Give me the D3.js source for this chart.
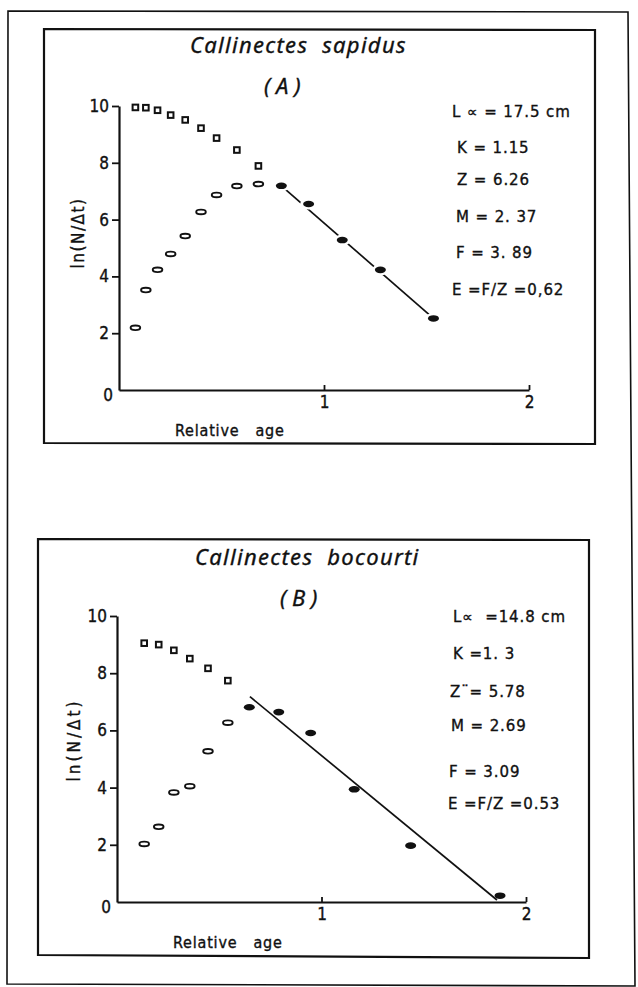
<!DOCTYPE html>
<html>
<head>
<meta charset="utf-8">
<script src="https://cdn.jsdelivr.net/npm/d3@7"></script>
<style>
  body { margin: 0; background: #fff; }
  text { fill: #111; stroke: #111; stroke-width: 0.35px; }
</style>
</head>
<body>
<svg id="chart" width="638" height="987"></svg>
<script>
// values
const yTicks = [2, 4, 6, 8, 10];
const xTicks = [1, 2];

// (A) Callinectes sapidus
const ageA = [0.08, 0.131, 0.188, 0.252, 0.323, 0.40, 0.476, 0.575, 0.68];
const lnUpperA = [9.95, 9.94, 9.85, 9.68, 9.51, 9.22, 8.87, 8.45, 7.89];
const lnLowerA = [2.19, 3.52, 4.23, 4.79, 5.42, 6.27, 6.87, 7.18, 7.25];
const ageFitA = [0.792, 0.925, 1.089, 1.275, 1.534];
const lnFitA = [7.19, 6.55, 5.28, 4.23, 2.52];
const lineA = [[0.792, 7.19], [1.534, 2.52]];
const paramsA = ['L \u221d = 17.5 cm', 'K = 1.15', 'Z = 6.26', 'M = 2. 37', 'F = 3. 89', 'E =F/Z =0,62'];

// (B) Callinectes bocourti
const ageB = [0.133, 0.204, 0.278, 0.356, 0.445, 0.542];
const lnUpperB = [9.05, 9.0, 8.80, 8.51, 8.17, 7.74];
const lnLowerB = [2.03, 2.63, 3.83, 4.05, 5.27, 6.27];
const ageFitB = [0.647, 0.791, 0.947, 1.160, 1.436, 1.873];
const lnFitB = [6.81, 6.64, 5.91, 3.94, 1.97, 0.22];
const lineB = [[0.650, 7.18], [1.858, 0.07]];
const paramsB = ['L\u221d  =14.8 cm', 'K =1. 3', 'Z\u00a8= 5.78', 'M = 2.69', 'F = 3.09', 'E =F/Z =0.53'];

const svg = d3.select('#chart');
const ink = '#111';
const font = '"DejaVu Sans Condensed", "DejaVu Sans", sans-serif';

// outer frame of the plate
svg.append('path')
  .attr('d', 'M8,11 L628,12 L635,986 L7,984 Z')
  .attr('fill', 'none')
  .attr('stroke', ink)
  .attr('stroke-width', 1.6);

function titleOf(species) {
  return `Callinectes  ${species}`;
}

const drawPanel = (p) => {
  const scaleX = d3.scaleLinear().domain([0, 2]).range(p.xRange);
  const scaleY = d3.scaleLinear().domain([0, 10]).range(p.yRange);

  const g = svg.append('g').attr('class', `panel-${p.name}`);

  g.append('path')
    .attr('d', d3.line()(p.box) + 'Z')
    .attr('fill', 'none')
    .attr('stroke', ink)
    .attr('stroke-width', 2.2);

  g.append('text')
    .attr('x', p.titleX).attr('y', p.titleY)
    .attr('font-family', '"Noto Sans", sans-serif')
    .attr('font-style', 'italic')
    .attr('font-size', 22)
    .attr('letter-spacing', 1.3)
    .attr('xml:space', 'preserve')
    .text(p.title);

  g.append('text')
    .attr('x', p.tagX).attr('y', p.titleY + 41)
    .attr('font-family', '"Noto Sans", sans-serif')
    .attr('font-style', 'italic')
    .attr('font-size', 22)
    .attr('xml:space', 'preserve')
    .text(p.tag);

  // axes
  const axisY = d3.axisLeft(scaleY)
    .tickValues(yTicks)
    .tickSize(7)
    .tickSizeOuter(0)
    .tickPadding(3)
    .tickFormat(d3.format('d'));

  const axisX = d3.axisBottom(scaleX)
    .tickValues(xTicks)
    .tickSize(-5)
    .tickSizeOuter(0)
    .tickPadding(6)
    .tickFormat(d3.format('d'));

  const groupAxisY = g.append('g')
    .attr('transform', `translate(${p.xRange[0]},0)`)
    .call(axisY);

  const groupAxisX = g.append('g')
    .attr('transform', `translate(0,${p.yRange[0]})`)
    .call(axisX);

  [groupAxisX, groupAxisY].forEach(ax => {
    ax.select('.domain').attr('stroke', ink).attr('stroke-width', 2.2);
    ax.selectAll('.tick line').attr('stroke', ink).attr('stroke-width', 1.8);
    ax.selectAll('.tick text')
      .attr('fill', ink)
      .attr('font-family', font)
      .attr('font-size', 17);
  });

  // origin label
  g.append('text')
    .attr('x', scaleX(0) - 6).attr('y', scaleY(0) + 11)
    .attr('text-anchor', 'end')
    .attr('font-family', font)
    .attr('font-size', 17)
    .text('0');

  g.append('text')
    .attr('transform', `translate(${p.yLabelX},${p.yLabelY}) rotate(-90)`)
    .attr('text-anchor', 'middle')
    .attr('font-family', font)
    .attr('font-size', 17)
    .attr('letter-spacing', p.yLabelSpacing)
    .text('ln(N/\u0394t)');

  g.append('text')
    .attr('x', p.xLabelX).attr('y', scaleY(0) + 46)
    .attr('font-family', font)
    .attr('font-size', 16)
    .attr('letter-spacing', 0.8)
    .attr('xml:space', 'preserve')
    .text('Relative   age');

  // fitted catch curve line, drawn under the points
  g.append('path')
    .attr('d', d3.line().x(d => scaleX(d[0])).y(d => scaleY(d[1]))(p.line))
    .attr('stroke', ink)
    .attr('stroke-width', 1.7)
    .attr('fill', 'none');

  g.selectAll('rect.upper')
    .data(p.age.map((a, i) => [a, p.upper[i]]))
    .enter()
    .append('rect')
    .attr('class', 'upper')
    .attr('x', d => scaleX(d[0]) - 2.8)
    .attr('y', d => scaleY(d[1]) - 2.8)
    .attr('width', 5.6)
    .attr('height', 5.6)
    .attr('fill', '#fff')
    .attr('stroke', ink)
    .attr('stroke-width', 2);

  g.selectAll('ellipse.lower')
    .data(p.age.map((a, i) => [a, p.lower[i]]))
    .enter()
    .append('ellipse')
    .attr('class', 'lower')
    .attr('cx', d => scaleX(d[0]))
    .attr('cy', d => scaleY(d[1]))
    .attr('rx', 4.8)
    .attr('ry', 2.3)
    .attr('fill', '#fff')
    .attr('stroke', ink)
    .attr('stroke-width', 1.9);

  const fitPoints = p.ageFit.map((a, i) => [a, p.lnFit[i]]);

  // white halo so the line breaks around each point, as on the plate
  g.selectAll('ellipse.halo')
    .data(p.gap ? fitPoints : [])
    .enter()
    .append('ellipse')
    .attr('class', 'halo')
    .attr('cx', d => scaleX(d[0]))
    .attr('cy', d => scaleY(d[1]))
    .attr('rx', 8.5)
    .attr('ry', 5.5)
    .attr('fill', '#fff');

  g.selectAll('ellipse.fit')
    .data(fitPoints)
    .enter()
    .append('ellipse')
    .attr('class', 'fit')
    .attr('cx', d => scaleX(d[0]))
    .attr('cy', d => scaleY(d[1]))
    .attr('rx', 5.5)
    .attr('ry', 3.3)
    .attr('fill', ink);

  g.selectAll('text.param')
    .data(p.params)
    .enter()
    .append('text')
    .attr('class', 'param')
    .attr('x', (d, i) => p.paramX[i])
    .attr('y', (d, i) => p.paramY[i])
    .attr('font-family', '"DejaVu Sans", sans-serif')
    .attr('font-size', 15)
    .attr('letter-spacing', 0.9)
    .attr('xml:space', 'preserve')
    .text(d => d);
};

drawPanel({
  name: 'a',
  box: [[44, 29], [595, 30], [595, 444], [44, 443]],
  xRange: [119, 529],
  yRange: [390, 106],
  title: titleOf('sapidus'),
  titleX: 190, titleY: 53,
  tag: '( A )', tagX: 264,
  yLabelX: 84, yLabelY: 233, yLabelSpacing: 1.5,
  xLabelX: 175,
  age: ageA, upper: lnUpperA, lower: lnLowerA,
  ageFit: ageFitA, lnFit: lnFitA, line: lineA, gap: true,
  params: paramsA,
  paramX: [452, 457, 457, 456, 456, 452],
  paramY: [117, 153, 185, 222, 258, 295]
});

drawPanel({
  name: 'b',
  box: [[38, 539], [589, 540], [589, 958], [38, 955]],
  xRange: [117, 526],
  yRange: [902, 616],
  title: titleOf('bocourti'),
  titleX: 195, titleY: 565,
  tag: '( B )', tagX: 280,
  yLabelX: 80, yLabelY: 740, yLabelSpacing: 3,
  xLabelX: 173,
  age: ageB, upper: lnUpperB, lower: lnLowerB,
  ageFit: ageFitB, lnFit: lnFitB, line: lineB, gap: false,
  params: paramsB,
  paramX: [453, 453, 450, 451, 449, 448],
  paramY: [622, 659, 697, 731, 777, 809]
});
</script>
</body>
</html>
